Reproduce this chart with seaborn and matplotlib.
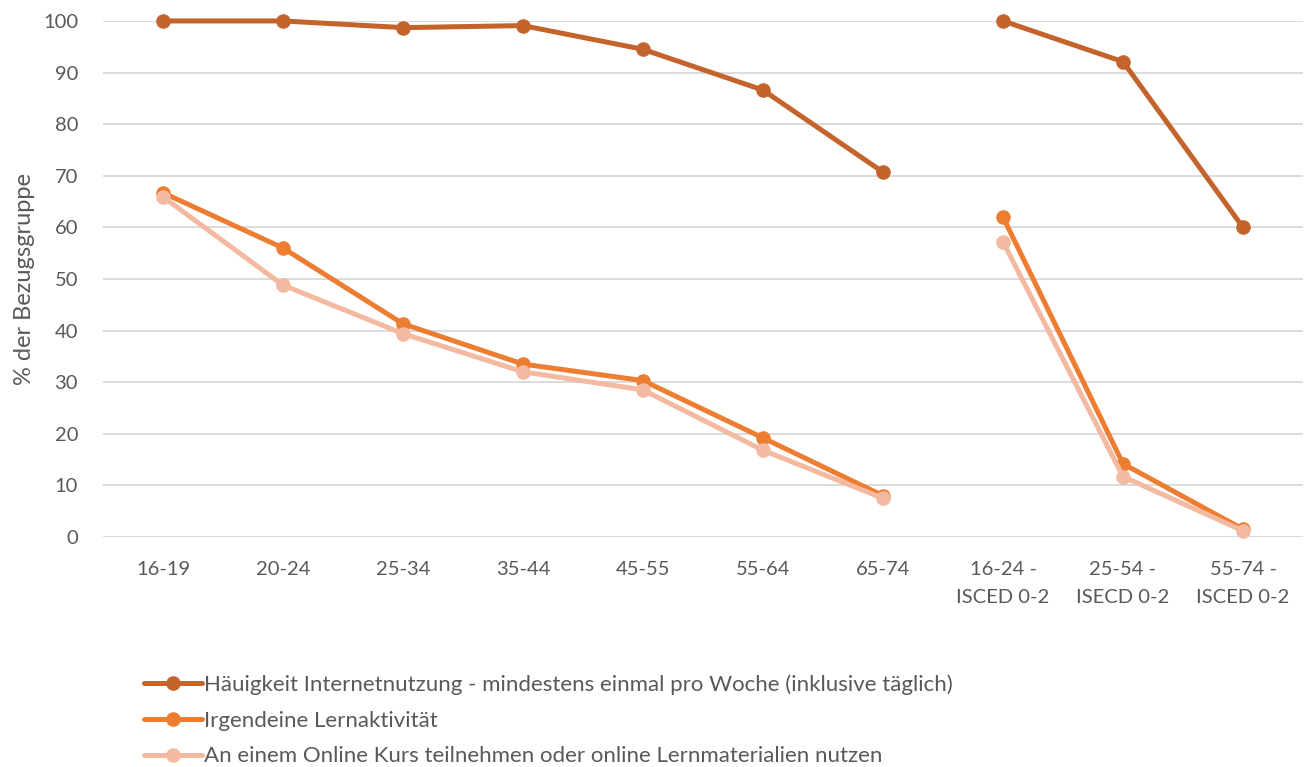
import matplotlib
matplotlib.use('Agg')
import matplotlib.pyplot as plt
import seaborn as sns
import pandas as pd


kategorien = ['16-19', '20-24', '25-34', '35-44', '45-55', '55-64', '65-74',
              '16-24 -\nISCED 0-2', '25-54 -\nISECD 0-2', '55-74 -\nISCED 0-2']
abschnitt = ['alter'] * 7 + ['isced'] * 3

internet = [100.0, 100.0, 98.7, 99.1, 94.5, 86.6, 70.7, 100.0, 92.1, 60.0]
lernaktivitaet = [66.7, 56.0, 41.3, 33.5, 30.3, 19.2, 8.0, 62.0, 14.2, 1.5]
online_kurs = [65.9, 48.8, 39.4, 32.0, 28.5, 16.8, 7.5, 57.2, 11.7, 1.2]

reihen = {
    'Häuigkeit Internetnutzung - mindestens einmal pro Woche (inklusive täglich)': internet,
    'Irgendeine Lernaktivität': lernaktivitaet,
    'An einem Online Kurs teilnehmen oder online Lernmaterialien nutzen': online_kurs,
}
farben = ['#C4632B', '#ED7D31', '#F4B9A1']


zeilen = []
for name, werte in reihen.items():
    for i, (kat, wert) in enumerate(zip(kategorien, werte)):
        zeilen.append({'pos': i, 'kategorie': kat, 'wert': wert,
                       'reihe': name, 'abschnitt': abschnitt[i]})
df = pd.DataFrame(zeilen)


sns.set_style('white')
plt.rcParams['font.family'] = ['Lato', 'DejaVu Sans']

fig = plt.figure(figsize=(13.11, 7.67), dpi=100)
ax = fig.add_axes([0.0786, 0.2999, 0.9153, 0.6728])

sns.lineplot(data=df, x='pos', y='wert', hue='reihe', units='abschnitt',
             estimator=None, sort=False, palette=farben, marker='o',
             linewidth=3.6, markersize=10.5, markeredgewidth=0, ax=ax,
             clip_on=False)

ax.set_xlim(-0.5, len(kategorien) - 0.5)
ax.set_ylim(0, 100)
ax.set_yticks(range(0, 101, 10))
ax.set_xticks(range(len(kategorien)))
ax.set_xticklabels(kategorien, fontsize=14.5, color='#595959', linespacing=1.85)
ax.tick_params(axis='y', labelsize=14.5, labelcolor='#595959', length=0, pad=18)
ax.tick_params(axis='x', length=0, pad=17)
ax.grid(axis='y', color='#D9D9D9', linewidth=1.3)
ax.set_axisbelow(True)
for s in ax.spines.values():
    s.set_visible(False)

ax.set_xlabel('')
ax.set_ylabel('% der Bezugsgruppe', fontsize=17, color='#595959', labelpad=6)

handles, labels = ax.get_legend_handles_labels()
ax.get_legend().remove()
fig.legend(handles, labels, loc='upper left', bbox_to_anchor=(0.103, 0.132),
           frameon=False, fontsize=16, labelcolor='#595959', handlelength=2.6,
           handletextpad=0.1, labelspacing=0.7, borderaxespad=0)

fig.savefig('out.png', dpi=100)
